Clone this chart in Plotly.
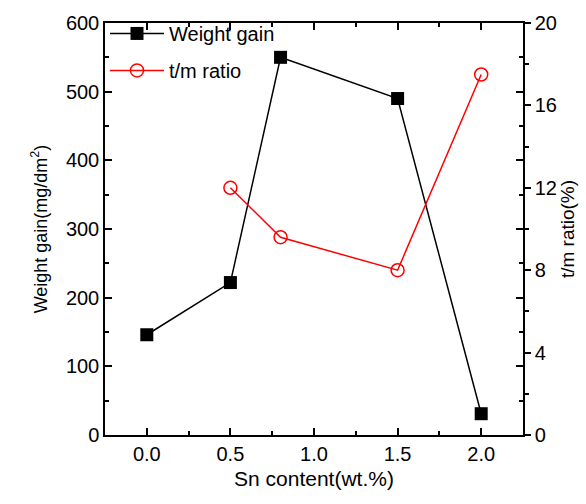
import plotly.graph_objects as go

sn_wg = [0.0, 0.5, 0.8, 1.5, 2.0]
weight_gain = [146, 222, 550, 490, 31]
sn_tm = [0.5, 0.8, 1.5, 2.0]
tm_ratio = [12.0, 9.6, 8.0, 17.5]
x_ticks = [0, 0.5, 1.0, 1.5, 2.0]
x_ticktext = ["0.0", "0.5", "1.0", "1.5", "2.0"]
y2_ticks = [0, 4, 8, 12, 16, 20]

FONT = "Liberation Sans, Arial, sans-serif"

fig = go.Figure()
fig.add_trace(go.Scatter(
    x=sn_wg, y=weight_gain, name="Weight gain", mode="lines+markers",
    legendgroup="a",
    line=dict(color="black", width=1.5),
    marker=dict(symbol="square", size=13, color="black"),
))
fig.add_trace(go.Scatter(
    x=sn_tm, y=tm_ratio, name="t/m ratio", mode="lines+markers", yaxis="y2",
    legendgroup="b",
    line=dict(color="red", width=1.5),
    marker=dict(symbol="circle-open", size=13, color="red", line=dict(width=1.5)),
))

axis_common = dict(showline=True, linecolor="black", linewidth=1.5,
                   showgrid=False, zeroline=False, ticks="inside", ticklen=7,
                   tickwidth=1.5, tickcolor="black",
                   tickfont=dict(family=FONT, size=20, color="black"))

fig.update_layout(
    width=586, height=504,
    margin=dict(l=105, r=61, t=15, b=69),
    paper_bgcolor="white", plot_bgcolor="white",
    font=dict(family=FONT, size=20, color="black"),
    showlegend=True,
    legend=dict(x=0.0, y=1.022, xanchor="left", yanchor="top", traceorder="grouped",
                bgcolor="rgba(0,0,0,0)", font=dict(family=FONT, size=20),
                tracegroupgap=8, itemwidth=54),
    xaxis=dict(range=[-0.25, 2.25], tickvals=x_ticks,
               ticktext=x_ticktext, mirror="ticks",
               minor=dict(dtick=0.25, ticklen=4, ticks="inside", tickcolor="black", tickwidth=1.5),
               title=dict(text="Sn content(wt.%)", font=dict(family=FONT, size=21), standoff=8),
               **axis_common),
    yaxis=dict(range=[0, 600], dtick=100, mirror="ticks",
               minor=dict(dtick=50, ticklen=4, ticks="inside", tickcolor="black", tickwidth=1.5),
               title=dict(text="Weight gain(mg/dm<sup>2</sup>)", font=dict(family=FONT, size=18), standoff=14),
               **axis_common),
    yaxis2=dict(range=[0, 20], tickvals=y2_ticks, overlaying="y", side="right",
                showline=True, linecolor="black", linewidth=1.5, showgrid=False, zeroline=False,
                ticks="outside", ticklen=6, tickwidth=1.5, tickcolor="black",
                minor=dict(dtick=2, ticklen=4, ticks="outside", tickcolor="black", tickwidth=1.5),
                tickfont=dict(family=FONT, size=20, color="black"),
                title=dict(text="t/m ratio(%)", font=dict(family=FONT, size=19), standoff=4)),
)

fig.write_html("out.html", config={"displayModeBar": False},
               post_script="document.body.style.margin='0';document.body.style.overflow='hidden';")
